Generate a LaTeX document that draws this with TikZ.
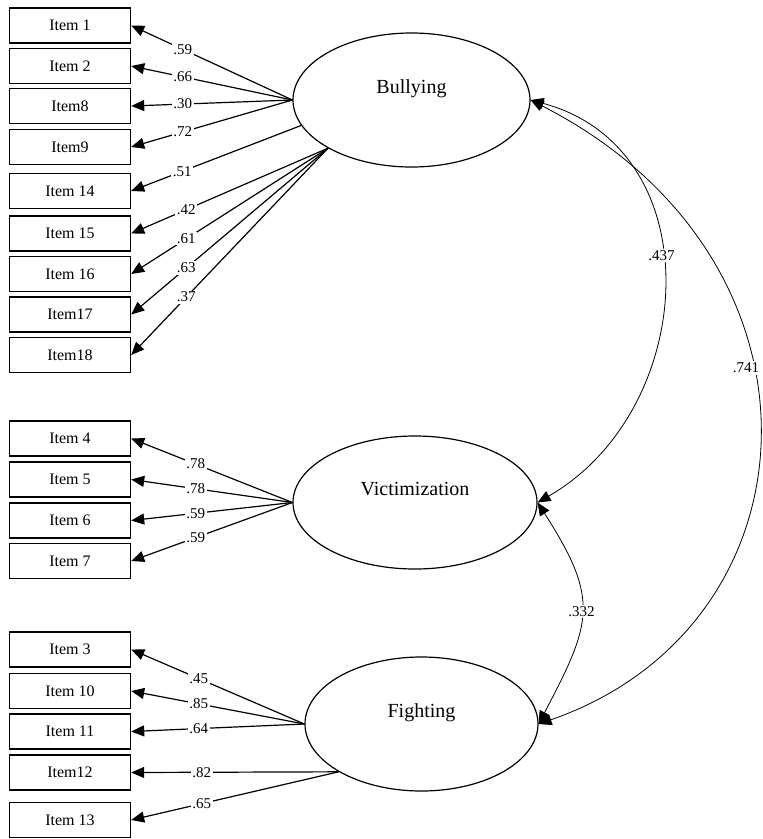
\documentclass[tikz,border=0pt]{standalone}
\usepackage{fontspec}
\setmainfont{Liberation Serif}
\usetikzlibrary{arrows.meta,shapes.geometric}

\begin{document}
\begin{tikzpicture}[x=1pt,y=-1pt,
    itemBox/.style={draw,line width=1.4pt,minimum width=121pt,minimum height=35pt,
      inner sep=0pt,font=\fontsize{16}{18}\selectfont},
    latentVar/.style={draw,ellipse,line width=1.2pt,inner sep=0pt,
      text height=10pt,text depth=24pt,font=\fontsize{20}{22}\selectfont},
    loadArrow/.style={line width=1.2pt,-{Triangle[length=13pt,width=11pt]}},
    covArrow/.style={line width=.8pt,
      {Triangle[length=13pt,width=11pt]}-{Triangle[length=13pt,width=11pt]}},
    coefLabel/.style={fill=white,inner sep=1.5pt,font=\fontsize{15}{17}\selectfont}]
    \useasboundingbox (0,0) rectangle (763,839);
    % observed items
    \foreach \nm/\txt/\yy in {i1/Item 1/25.5,i2/Item 2/66,i8/Item8/106,i9/Item9/147,
        i14/Item 14/191,i15/Item 15/233.5,i16/Item 16/274,i17/Item17/314.5,i18/Item18/355,
        i4/Item 4/438.5,i5/Item 5/479.5,i6/Item 6/520.5,i7/Item 7/561,
        i3/Item 3/649.5,i10/Item 10/691,i11/Item 11/731.5,i12/Item12/772.5,i13/Item 13/820}
      \node[itemBox] (\nm) at (70,\yy) {\txt};
    % latent factors
    \node[latentVar,minimum width=237pt,minimum height=134pt] (bully) at (411.5,100) {Bullying};
    \node[latentVar,minimum width=244pt,minimum height=133pt] (vict) at (415,502.5) {Victimization};
    \node[latentVar,minimum width=233pt,minimum height=134pt] (fight) at (421.5,724) {Fighting};
    % loadings
    \foreach \src/\dst/\val/\where in {bully.west/i1/.59/.68,bully.west/i2/.66/.68,
        bully.west/i8/.30/.68,bully.west/i9/.72/.68,bully.193/i14/.51/.70,
        bully.210/i15/.42/.72,bully.210/i16/.61/.72,bully.210/i17/.63/.72,bully.210/i18/.37/.72,
        vict.west/i4/.78/.6,vict.west/i5/.78/.6,vict.west/i6/.59/.6,vict.west/i7/.59/.6,
        fight.west/i3/.45/.61,fight.west/i10/.85/.61,fight.west/i11/.64/.61,
        fight.210/i12/.82/.66,fight.210/i13/.65/.66}
      \draw[loadArrow] (\src) -- node[coefLabel,pos=\where] {\val} (\dst.east);
    % correlations
    \draw[covArrow] (bully.east) .. controls (713,149) and (699,409.5) ..
      node[coefLabel,pos=.44] {.437} (vict.east);
    \draw[covArrow] (bully.east) .. controls (844,260) and (822,626) ..
      node[coefLabel,pos=.41,xshift=-6pt] {.741} (fight.east);
    \draw[covArrow] (vict.east) .. controls (600,600) and (592,622) ..
      node[coefLabel,pos=.5] {.332} (fight.east);
\end{tikzpicture}
\end{document}
